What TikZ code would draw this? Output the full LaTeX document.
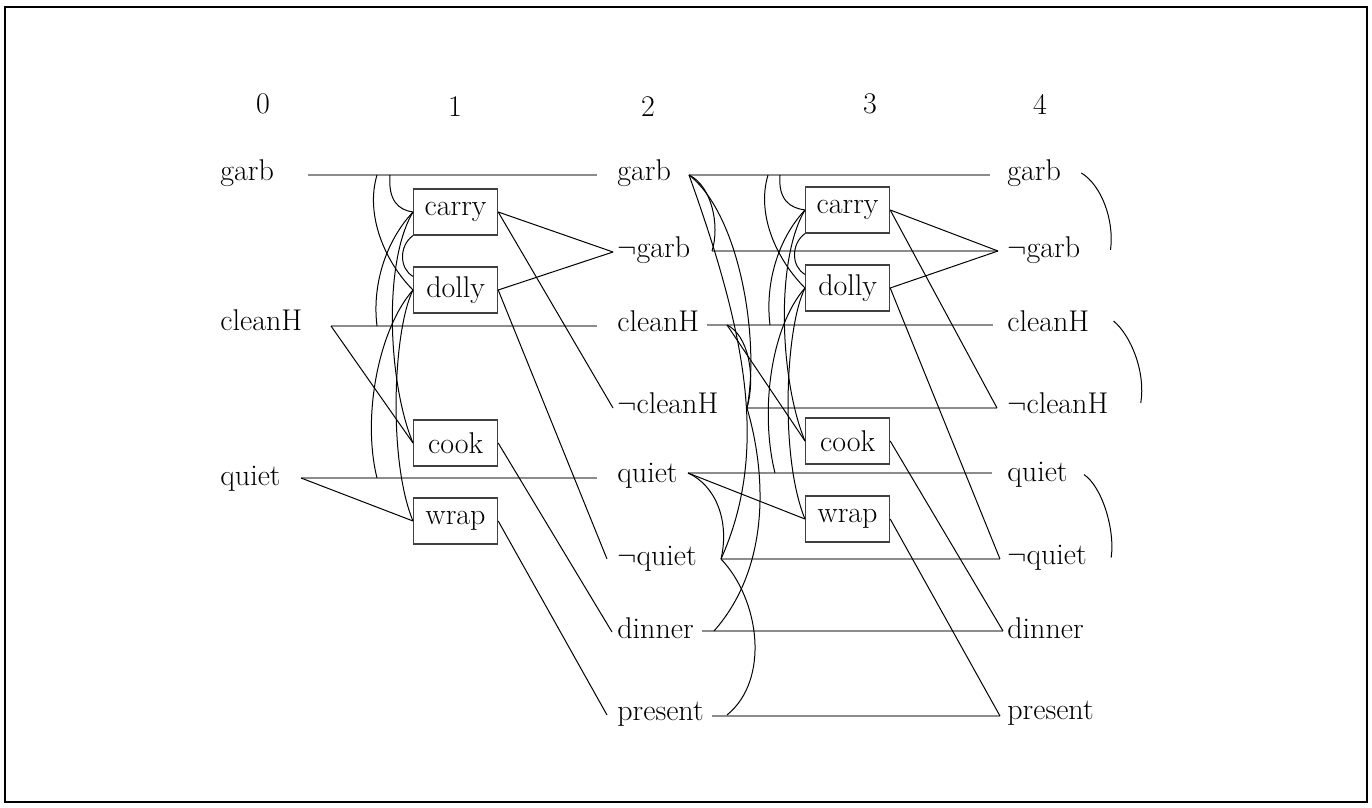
\documentclass[tikz,border=0pt]{standalone}
\usepackage{amsmath}
\begin{document}
\begin{tikzpicture}[x=0.5pt,y=-0.5pt,
  every node/.style={font=\fontsize{15}{18}\selectfont},
  prop/.style={anchor=mid west,inner sep=0pt},
  act/.style={draw=black!75,line width=0.6pt,anchor=west,inner xsep=4pt,
    minimum height=23pt,minimum width=42pt},
  noop/.style={draw=black!45,line width=1pt},
  link/.style={line width=0.5pt},
  mutex/.style={line width=0.5pt}]
\useasboundingbox (0,0) rectangle (1372,808);
\draw[line width=0.8pt] (5,7) rectangle (1367,802);

% level numbers
\node (lev0) at (263,104) {0};
\node (lev1) at (455,107) {1};
\node (lev2) at (648,107) {2};
\node (lev3) at (870,104) {3};
\node (lev4) at (1040,104) {4};

% propositions
\node[prop] (g0) at (220,176) {garb};
\node[prop] (c0) at (220,326) {cleanH};
\node[prop] (q0) at (220,481) {quiet};

\node[prop] (g2)  at (617,176) {garb};
\node[prop] (ng2) at (617,253) {$\neg$garb};
\node[prop] (c2)  at (617,327) {cleanH};
\node[prop] (nc2) at (617,409) {$\neg$cleanH};
\node[prop] (q2)  at (617,478) {quiet};
\node[prop] (nq2) at (617,561) {$\neg$quiet};
\node[prop] (d2)  at (617,634) {dinner};
\node[prop] (p2)  at (617,716) {present};

\node[prop] (g4)  at (1007,176) {garb};
\node[prop] (ng4) at (1007,253) {$\neg$garb};
\node[prop] (c4)  at (1007,327) {cleanH};
\node[prop] (nc4) at (1007,409) {$\neg$cleanH};
\node[prop] (q4)  at (1007,477) {quiet};
\node[prop] (nq4) at (1007,560) {$\neg$quiet};
\node[prop] (d4)  at (1007,634) {dinner};
\node[prop] (p4)  at (1007,715) {present};

% actions
\node[act] (carry1) at (413,212) {carry};
\node[act] (dolly1) at (413,290) {dolly};
\node[act] (cook1)  at (413,443) {cook};
\node[act] (wrap1)  at (413,521) {wrap};
\node[act] (carry3) at (805,210) {carry};
\node[act] (dolly3) at (805,288) {dolly};
\node[act] (cook3)  at (805,441) {cook};
\node[act] (wrap3)  at (805,519) {wrap};

% ends of the lines
\coordinate (g0s) at (308,175);  \coordinate (g0e) at (597,175);
\coordinate (c0s) at (331,326);  \coordinate (c0e) at (597,326);
\coordinate (q0s) at (301,478);  \coordinate (q0e) at (597,478);
\coordinate (ng2e) at (613,252); \coordinate (nc2e) at (613,408);
\coordinate (nq2e) at (607,559); \coordinate (d2e) at (612,632);
\coordinate (p2e) at (607,715);

\coordinate (g2s) at (689,175);  \coordinate (g2t) at (990,175);
\coordinate (ng2s) at (712,251); \coordinate (ng2t) at (998,251);
\coordinate (c2s) at (707,325);  \coordinate (c2t) at (993,325);
\coordinate (nc2s) at (747,408); \coordinate (nc2t) at (997,408);
\coordinate (q2s) at (688,473);  \coordinate (q2t) at (992,473);
\coordinate (nq2s) at (721,559); \coordinate (nq2t) at (1000,559);
\coordinate (d2s) at (702,631);  \coordinate (d2t) at (1003,631);
\coordinate (p2s) at (712,716);  \coordinate (p2t) at (1000,716);
\coordinate (c2m) at (727,325);  \coordinate (d2m) at (714,631);
\coordinate (p2m) at (727,715);

\coordinate (gA1) at (390,175); \coordinate (gB1) at (377,175);
\coordinate (cA1) at (377,326); \coordinate (qA1) at (377,478);
\coordinate (gA3) at (780,175); \coordinate (gB3) at (768,175);
\coordinate (cA3) at (770,325); \coordinate (qA3) at (775,473);

% no-ops
\draw[noop] (g0s) -- (g0e);
\draw[noop] (c0s) -- (c0e);
\draw[noop] (q0s) -- (q0e);
\foreach \p in {g2,ng2,c2,nc2,q2,nq2,d2,p2}
  \draw[noop] (\p s) -- (\p t);

% preconditions and effects
\draw[link] (c0s) -- (cook1.west);
\draw[link] (q0s) -- (wrap1.west);
\draw[link] (c2m) -- (cook3.west);
\draw[link] (q2s) -- (wrap3.west);
\draw[link] (carry1.east) -- (ng2e);
\draw[link] (carry1.east) -- (nc2e);
\draw[link] (dolly1.east) -- (ng2e);
\draw[link] (dolly1.east) -- (nq2e);
\draw[link] (cook1.east) -- (d2e);
\draw[link] (wrap1.east) -- (p2e);
\draw[link] (carry3.east) -- (ng2t);
\draw[link] (carry3.east) -- (nc2t);
\draw[link] (dolly3.east) -- (ng2t);
\draw[link] (dolly3.east) -- (nq2t);
\draw[link] (cook3.east) -- (d2t);
\draw[link] (wrap3.east) -- (p2t);

% mutex between actions
\foreach \l in {1,3}{
  \draw[mutex] (gA\l) .. controls +(-2,25) and +(-15,-2) .. (carry\l.west);
  \draw[mutex] (gB\l) .. controls +(-12,40) and +(-28,-28) .. (dolly\l.west);
  \draw[mutex] (carry\l.south west) .. controls +(-14,10) and +(-14,-8)
    .. ([yshift=-5pt]dolly\l.north west);
  \draw[mutex] (carry\l.west) .. controls +(-28,30) and +(-5,-40) .. (cA\l);
  \draw[mutex] (carry\l.west) .. controls +(-30,50) and +(-25,-60) .. (cook\l.west);
  \draw[mutex] (dolly\l.west) .. controls +(-35,40) and +(-15,-60) .. (qA\l);
  \draw[mutex] (dolly\l.west) .. controls +(-20,40) and +(-25,-60) .. (wrap\l.west);
}

% mutex between propositions
\draw[mutex] (g2s) .. controls +(23,11) and +(8,-25) .. (ng2s);
\draw[mutex] (g2s) .. controls +(51,40) and +(13,-68) .. (nc2s);
\draw[mutex] (g2s) .. controls +(56,156) and +(49,-109) .. (nq2s);
\draw[mutex] (c2m) .. controls +(21,10) and +(9,-33) .. (nc2s);
\draw[mutex] (nc2s) .. controls +(21,72) and +(54,-61) .. (d2m);
\draw[mutex] (q2s) .. controls +(27,12) and +(9,-39) .. (nq2s);
\draw[mutex] (nq2s) .. controls +(39,41) and +(43,-35) .. (p2m);

\draw[mutex] ([xshift=10pt]g4.east) .. controls +(20,12) and +(4,-30) .. ([xshift=15pt]ng4.east);
\draw[mutex] ([xshift=12pt]c4.east) .. controls +(18,15) and +(5,-30) .. ([xshift=16pt]nc4.east);
\draw[mutex] ([xshift=8pt]q4.east) .. controls +(18,12) and +(4,-28) .. ([xshift=12pt]nq4.east);
\end{tikzpicture}
\end{document}
